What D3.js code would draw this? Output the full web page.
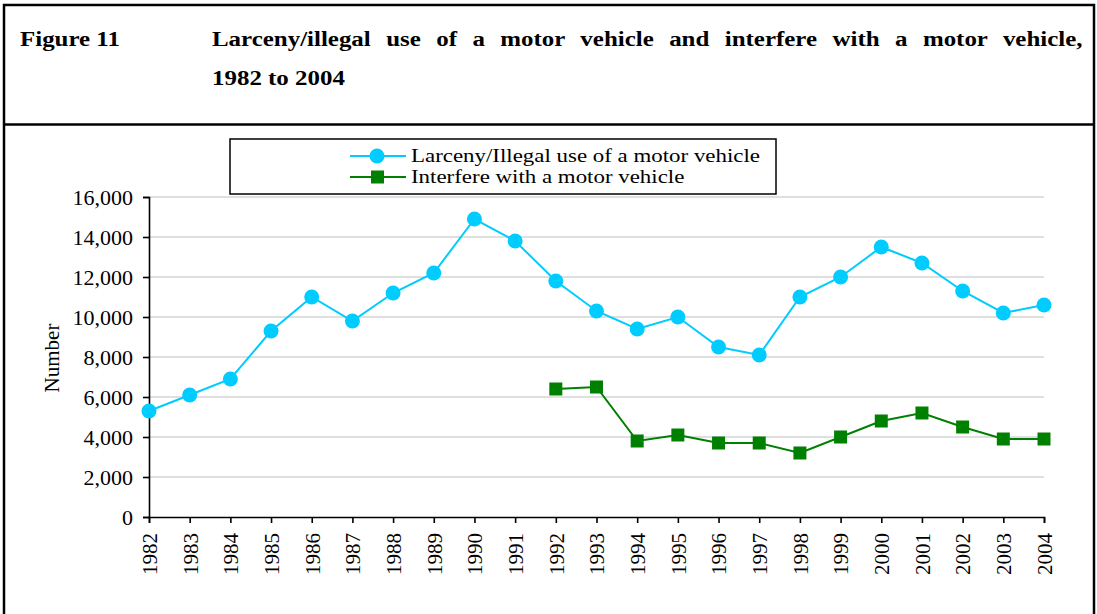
<!DOCTYPE html>
<html><head><meta charset="utf-8">
<script src="https://cdn.jsdelivr.net/npm/d3@7"></script>
<style>
html,body{margin:0;padding:0;background:#fff;}
svg{display:block;}
</style></head>
<body>
<svg id="c" width="1097" height="614" font-family="Liberation Serif, serif"></svg>
<script>
const years = d3.range(1982, 2005);
const larceny = [5300,6100,6900,9300,11000,9800,11200,12200,14900,13800,11800,10300,9400,10000,8500,8100,11000,12000,13500,12700,11300,10200,10600];
const interfere = [null,null,null,null,null,null,null,null,null,null,6400,6500,3800,4100,3700,3700,3200,4000,4800,5200,4500,3900,3900];
const yTicks = [0,2000,4000,6000,8000,10000,12000,14000,16000];
const seriesNames = ["Larceny/Illegal use of a motor vehicle","Interfere with a motor vehicle"];
const seriesColors = ["#00ccff","#008000"];
const figLabel = "Figure 11";
const titleLine1 = "Larceny/illegal use of a motor vehicle and interfere with a motor vehicle,";
const titleLine2 = "1982 to 2004";
const yLabel = "Number";

const FF = "Liberation Serif, serif";
const svg = d3.select("#c");

// frame
svg.append("rect").attr("x",4).attr("y",5).attr("width",1090).attr("height",640)
  .attr("fill","none").attr("stroke","#000").attr("stroke-width",2.5);
svg.append("line").attr("x1",4).attr("x2",1094).attr("y1",124.5).attr("y2",124.5)
  .attr("stroke","#000").attr("stroke-width",2.5);

// title
const tfs = 22;
function tText(str){
  return svg.append("text").attr("x",0).attr("y",0).attr("font-size",tfs)
    .attr("font-weight","bold").attr("font-family",FF).text(str);
}
const l2 = tText(titleLine2);
const w2 = l2.node().getComputedTextLength();
const sx = 133 / w2;
l2.attr("transform",`translate(212,85) scale(${sx},1)`);
tText(figLabel).attr("transform",`translate(20,46) scale(${sx},1)`);
const l1 = tText(titleLine1);
const w1 = l1.node().getComputedTextLength();
const nsp = titleLine1.split(" ").length - 1;
const ws = (871/sx - w1)/nsp;
l1.attr("word-spacing",ws).attr("transform",`translate(212,46) scale(${sx},1)`);

// scales
const x = d3.scalePoint().domain(years).range([149,1044]);
const y = d3.scaleLinear().domain([0,16000]).range([517,197]);

// gridlines
svg.append("g").selectAll("line").data(yTicks.filter(d=>d>0)).join("line")
  .attr("x1",149).attr("x2",1044).attr("y1",d=>y(d)).attr("y2",d=>y(d))
  .attr("stroke","#c0c0c0").attr("stroke-width",1.2);

// axes
const yAxis = svg.append("g").attr("transform","translate(149,0)")
  .call(d3.axisLeft(y).tickValues(yTicks).tickSize(6).tickPadding(10).tickFormat(d3.format(",")));
yAxis.attr("font-family",FF);
yAxis.selectAll("text").attr("font-size",22).attr("font-family",FF);
yAxis.selectAll("line,path").attr("stroke","#000").attr("stroke-width",1.6);

const xAxis = svg.append("g").attr("transform","translate(0,517)")
  .call(d3.axisBottom(x).tickSize(6).tickPadding(0));
xAxis.attr("font-family",FF);
xAxis.selectAll("line,path").attr("stroke","#000").attr("stroke-width",1.6);
xAxis.selectAll("text").attr("font-size",21).attr("font-family",FF)
  .attr("transform","translate(0,16) rotate(-90)")
  .attr("x",0).attr("y",0).attr("dy","0.35em").attr("text-anchor","end");

svg.append("text").attr("transform","translate(59,358) rotate(-90)")
  .attr("text-anchor","middle").attr("font-size",21).attr("font-family",FF).text(yLabel);

// lines
const line = d3.line().defined(d=>d[1]!=null).x(d=>x(d[0])).y(d=>y(d[1]));
const d1 = years.map((yr,i)=>[yr,larceny[i]]);
const d2 = years.map((yr,i)=>[yr,interfere[i]]);
svg.append("path").attr("d",line(d1)).attr("fill","none").attr("stroke",seriesColors[0]).attr("stroke-width",2);
svg.append("path").attr("d",line(d2)).attr("fill","none").attr("stroke",seriesColors[1]).attr("stroke-width",2);
svg.append("g").selectAll("circle").data(d1).join("circle")
  .attr("cx",d=>x(d[0])).attr("cy",d=>y(d[1])).attr("r",7.5).attr("fill",seriesColors[0]);
svg.append("g").selectAll("rect").data(d2.filter(d=>d[1]!=null)).join("rect")
  .attr("x",d=>x(d[0])-6.5).attr("y",d=>y(d[1])-6.5).attr("width",13).attr("height",13).attr("fill",seriesColors[1]);

// legend
svg.append("rect").attr("x",230).attr("y",139).attr("width",546).attr("height",55)
  .attr("fill","#fff").attr("stroke","#000").attr("stroke-width",1.5);
const lg = svg.append("g");
let w0 = 0;
[0,1].forEach(i=>{
  const ly = 156 + i*21;
  lg.append("line").attr("x1",350).attr("x2",406).attr("y1",ly).attr("y2",ly)
    .attr("stroke",seriesColors[i]).attr("stroke-width",2);
  if(i===0) lg.append("circle").attr("cx",377).attr("cy",ly).attr("r",7.5).attr("fill",seriesColors[0]);
  else lg.append("rect").attr("x",371).attr("y",ly-6.5).attr("width",13).attr("height",13).attr("fill",seriesColors[1]);
  const t = lg.append("text").attr("x",411).attr("y",ly).attr("dy","0.33em").attr("font-size",19)
    .attr("font-family",FF).text(seriesNames[i]);
  const w = t.node().getComputedTextLength();
  if(i===0){ w0 = w; t.attr("textLength",349).attr("lengthAdjust","spacingAndGlyphs"); }
  else { t.attr("textLength",349*w/w0).attr("lengthAdjust","spacingAndGlyphs"); }
});
</script>
</body></html>
